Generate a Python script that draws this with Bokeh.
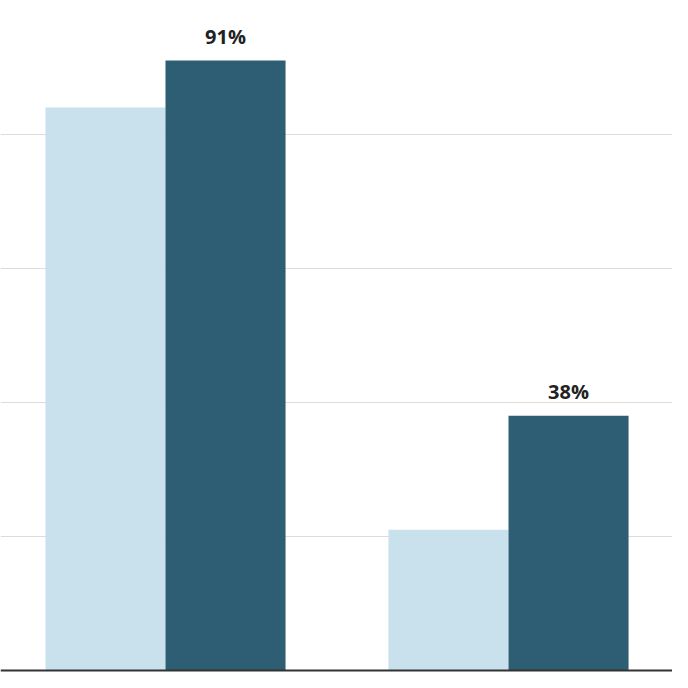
from bokeh.plotting import figure
from bokeh.models import ColumnDataSource, Span, FixedTicker, Range1d
from bokeh.transform import dodge
from bokeh.core.properties import value
from bokeh.embed import file_html
from bokeh.resources import INLINE

categories = ["Group A", "Group B"]
series_light = [84, 21]
series_dark = [91, 38]
dark_labels = ["91%", "38%"]
grid_ticks = [20, 40, 60, 80]

LIGHT = "#c9e1ed"
DARK = "#2e5e73"

src = ColumnDataSource(data=dict(
    x=list(range(len(categories))),
    cat=categories,
    light=series_light,
    dark=series_dark,
    lbl=dark_labels,
))

p = figure(width=672, height=672, output_backend="svg", toolbar_location=None,
           x_range=Range1d(-0.4810, 1.4781), y_range=Range1d(-0.298, 99.95),
           min_border=0)
p.outline_line_color = None
p.background_fill_color = "white"
p.border_fill_color = "white"
p.xaxis.visible = False
p.yaxis.visible = False
p.xgrid.visible = False
p.ygrid.ticker = FixedTicker(ticks=grid_ticks)
p.ygrid.grid_line_color = "#dcdcdc"
p.ygrid.grid_line_width = 1

w = 0.35
p.vbar(x=dodge("x", -0.175), top="light", width=w, source=src,
       fill_color=LIGHT, line_color=None)
p.vbar(x=dodge("x", 0.175), top="dark", width=w, source=src,
       fill_color=DARK, line_color=None)

p.text(x=dodge("x", 0.175), y="dark", text="lbl", source=src,
       text_align="center", text_baseline="alphabetic", y_offset=-24,
       text_font=value("Open Sans"), text_font_style="bold",
       text_font_size="20px", text_color="#222222")

p.add_layout(Span(location=0, dimension="width", line_color="#333333", line_width=2))

open("out.html", "w").write(file_html(p, INLINE))
